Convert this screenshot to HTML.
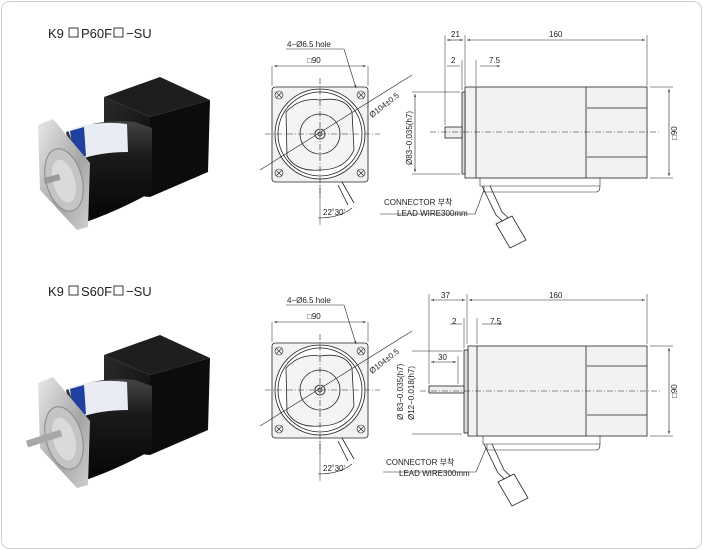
<!DOCTYPE html>
<html><head><meta charset="utf-8"><style>
html,body{margin:0;padding:0;background:#fff;}
svg{display:block;font-family:"Liberation Sans","Noto Sans CJK KR",sans-serif;}
</style></head><body>
<svg width="703" height="550" viewBox="0 0 703 550" xmlns="http://www.w3.org/2000/svg">
<defs>
<linearGradient id="blk" x1="0" y1="0" x2="1" y2="1"><stop offset="0" stop-color="#2a2a2a"/><stop offset="1" stop-color="#0a0a0a"/></linearGradient>
<linearGradient id="cyl" x1="0" y1="0" x2="0" y2="1"><stop offset="0" stop-color="#444"/><stop offset="0.35" stop-color="#1a1a1a"/><stop offset="1" stop-color="#050505"/></linearGradient>
<linearGradient id="sil" x1="0" y1="0" x2="1" y2="1"><stop offset="0" stop-color="#e8e8e8"/><stop offset="0.6" stop-color="#a5a5a5"/><stop offset="1" stop-color="#d0d0d0"/></linearGradient>
<marker id="a" markerWidth="6" markerHeight="6" refX="5" refY="3" orient="auto"><path d="M0,1.5 L5,3 L0,4.5 Z" fill="#222"/></marker>
<marker id="b" markerWidth="6" markerHeight="6" refX="0" refY="3" orient="auto"><path d="M5,1.5 L0,3 L5,4.5 Z" fill="#222"/></marker>
<g id="photo">
 <path d="M104,97 L160,77 L210,100 L150,117 Z" fill="#1e1e1e"/>
 <path d="M150,117 L210,100 L208,172 L150,197 Z" fill="#0c0c0c"/>
 <path d="M104,97 L150,117 L150,197 L140,196 L104,150 Z" fill="url(#blk)"/>
 <path d="M66,132 Q100,118 135,122 L152,128 L152,192 Q120,210 86,222 Z" fill="url(#cyl)"/>
 <path d="M68,130 Q95,120 127,124 L128,152 Q100,152 78,160 Z" fill="#e9edf3"/>
 <path d="M70,131 L84,127 L86,156 L74,160 Z" fill="#2040a0"/>
 <path d="M38,125 L53,119 L90,163 L88,227 L77,230 L40,190 Z" fill="url(#sil)"/>
 <ellipse cx="64" cy="180" rx="18" ry="32" fill="#c4c4c4" stroke="#8a8a8a" transform="rotate(-15 64 180)"/>
 <ellipse cx="64" cy="181" rx="11" ry="22" fill="#dadada" transform="rotate(-15 64 181)"/>
</g>
<g id="front" fill="none" stroke="#222" stroke-width="0.8">
 <rect x="272" y="87" width="96" height="95" rx="3" fill="#f2f2f2"/>
 <circle cx="320" cy="134" r="45" fill="#fff"/>
 <circle cx="320" cy="134" r="42" fill="#fff"/>
 <path d="M286,112 Q300,97 320,100 Q345,96 352,112 L354,150 Q345,170 320,170 Q296,172 287,156 Z" fill="#f4f4f4"/>
 <circle cx="320" cy="134" r="20"/>
 <circle cx="320" cy="134" r="5"/>
 <circle cx="320" cy="134" r="2"/>
 <g stroke-width="0.6"><circle cx="279" cy="95" r="4"/><circle cx="361" cy="95" r="4"/><circle cx="279" cy="173" r="4"/><circle cx="361" cy="173" r="4"/>
 <path d="M276,92 l6,6 M282,92 l-6,6 M358,92 l6,6 M364,92 l-6,6 M276,170 l6,6 M282,170 l-6,6 M358,170 l6,6 M364,170 l-6,6"/></g>
 <path d="M265,134 H380 M320,78 V198" stroke-dasharray="6,2,1,2" stroke-width="0.6"/>
 <path d="M260,170 L412,75" stroke-width="0.6"/>
 <path d="M338,185 L348,205 M342,182 L354,203" stroke-width="0.8"/>
 <path d="M272,66 V86 M368,66 V86" stroke-width="0.5"/>
 <path d="M274,66 H366" stroke-width="0.6" marker-start="url(#b)" marker-end="url(#a)"/>
 <path d="M286,49 H344 L356,88" stroke-width="0.6" marker-end="url(#a)"/>
 <path d="M318,218 Q340,218 352,208" stroke-width="0.6"/>
 <path d="M320,185 V225" stroke-width="0.5"/>
</g>
<g id="side" fill="none" stroke="#222" stroke-width="0.8">
 <rect x="465" y="87" width="182" height="91" fill="#f2f2f2"/>
 <rect x="462" y="92" width="3" height="82" fill="#ddd"/>
 <path d="M586,87 V178 M587,108 H647 M587,157 H647 M476,87 V178"/>
 <rect x="445" y="127" width="17" height="11" fill="#eee"/>
 <path d="M430,132 H660" stroke-dasharray="6,2,1,2" stroke-width="0.6"/>
 <path d="M480,178 V186 H600 V178 M484,186 V192 H596 Q600,192 600,186" stroke-width="0.6"/>
 <path d="M482,186 L496,215 L510,228 M490,186 L502,212 L516,225" stroke-width="0.8"/>
 <path d="M496,224 L512,216 L526,240 L510,248 Z" fill="#fff"/>
 <path d="M445,35 V125 M465,35 V86 M647,35 V86 M462,60 V90 M476,60 V86" stroke-width="0.5"/>
 <path d="M447,40 H463" stroke-width="0.6" marker-start="url(#b)" marker-end="url(#a)"/>
 <path d="M467,40 H645" stroke-width="0.6" marker-start="url(#b)" marker-end="url(#a)"/>
 <path d="M447,66 H460 M480,66 H500" stroke-width="0.6" marker-end="url(#a)"/>
 <path d="M650,87 H673 M650,178 H673 M412,92 H460 M412,174 H460" stroke-width="0.5"/>
 <path d="M669,89 V176" stroke-width="0.6" marker-start="url(#b)" marker-end="url(#a)"/>
 <path d="M415,94 V172" stroke-width="0.6" marker-start="url(#b)" marker-end="url(#a)"/>
 <path d="M380,214 H475 L484,190" stroke-width="0.6"/>
</g>
</defs>
<rect x="1.5" y="1.5" width="700" height="547" rx="8" fill="#fff" stroke="#d0d0d0"/>
<text x="48" y="38" font-size="13" fill="#222">K9</text>
<rect x="69" y="28" width="9" height="9" fill="none" stroke="#222" stroke-width="0.9"/>
<text x="81" y="38" font-size="13" fill="#222">P60F</text>
<rect x="114" y="28" width="9" height="9" fill="none" stroke="#222" stroke-width="0.9"/>
<text x="126" y="38" font-size="13" fill="#222">−SU</text>
<use href="#photo"/>
<rect x="44" y="176" width="16" height="6" fill="#999" transform="rotate(-15 52 179)"/>
<use href="#front"/>
<use href="#side"/>
<g font-size="8" fill="#222">
<text x="287" y="47">4−Ø6.5 hole</text><text x="307" y="63">□90</text>
<text x="372" y="118" transform="rotate(-38 372 118)">Ø104±0.5</text>
<text x="323" y="215">22˚30'</text>
<text x="451" y="37">21</text><text x="549" y="37">160</text>
<text x="451" y="63">2</text><text x="489" y="63">7.5</text>
<text x="677" y="140" transform="rotate(-90 677 140)">□90</text>
<text x="412" y="165" transform="rotate(-90 412 165)">Ø83−0.035(h7)</text>
<text x="384" y="205">CONNECTOR 부착</text><text x="397" y="216">LEAD WIRE300mm</text>
</g>
<g transform="translate(0,258)">
<text x="48" y="38" font-size="13" fill="#222">K9</text>
<rect x="69" y="28" width="9" height="9" fill="none" stroke="#222" stroke-width="0.9"/>
<text x="81" y="38" font-size="13" fill="#222">S60F</text>
<rect x="114" y="28" width="9" height="9" fill="none" stroke="#222" stroke-width="0.9"/>
<text x="126" y="38" font-size="13" fill="#222">−SU</text>
<use href="#photo"/>
<rect x="26" y="177" width="36" height="7" fill="#a8a8a8" transform="rotate(-18 44 180)"/>
<use href="#front" transform="translate(0,-2)"/>
</g>
<g transform="translate(0,258)" fill="none" stroke="#222" stroke-width="0.8">
 <rect x="468" y="88" width="179" height="90" fill="#f2f2f2"/>
 <rect x="464" y="92" width="4" height="83" fill="#ddd"/>
 <path d="M586,88 V178 M587,108 H647 M587,157 H647 M477,88 V178"/>
 <rect x="429" y="128" width="35" height="7" fill="#eee"/>
 <path d="M420,133 H660" stroke-dasharray="6,2,1,2" stroke-width="0.6"/>
 <path d="M483,178 V186 H600 V178 M487,186 V192 H596 Q600,192 600,186" stroke-width="0.6"/>
 <path d="M484,186 L498,215 L512,228 M492,186 L504,212 L518,225" stroke-width="0.8"/>
 <path d="M498,224 L514,216 L528,240 L512,248 Z" fill="#fff"/>
 <path d="M429,36 V126 M467,36 V86 M647,36 V86 M464,60 V90 M477,60 V86 M458,98 V126" stroke-width="0.5"/>
 <path d="M431,42 H465" stroke-width="0.6" marker-start="url(#b)" marker-end="url(#a)"/>
 <path d="M469,42 H645" stroke-width="0.6" marker-start="url(#b)" marker-end="url(#a)"/>
 <path d="M431,104 H456" stroke-width="0.6" marker-start="url(#b)" marker-end="url(#a)"/>
 <path d="M450,66 H462 M482,66 H502" stroke-width="0.6" marker-end="url(#a)"/>
 <path d="M650,88 H673 M650,178 H673 M412,93 H462 M412,176 H462" stroke-width="0.5"/>
 <path d="M669,90 V176" stroke-width="0.6" marker-start="url(#b)" marker-end="url(#a)"/>
 <path d="M383,214 H476 L486,190" stroke-width="0.6"/>
</g>
<g font-size="8" fill="#222" transform="translate(0,258)">
<text x="441" y="40">37</text><text x="549" y="40">160</text>
<text x="452" y="66">2</text><text x="490" y="66">7.5</text>
<text x="438" y="102">30</text>
<text x="677" y="140" transform="rotate(-90 677 140)">□90</text>
<text x="403" y="162" transform="rotate(-90 403 162)">Ø 83−0.035(h7)</text>
<text x="414" y="162" transform="rotate(-90 414 162)">Ø12−0.018(h7)</text>
<text x="386" y="207">CONNECTOR 부착</text><text x="399" y="218">LEAD WIRE300mm</text>
</g>
<g font-size="8" fill="#222" transform="translate(0,256)">
<text x="287" y="47">4−Ø6.5 hole</text><text x="307" y="63">□90</text>
<text x="372" y="118" transform="rotate(-38 372 118)">Ø104±0.5</text>
<text x="323" y="215">22˚30'</text>
</g>
</svg>
</body></html>
